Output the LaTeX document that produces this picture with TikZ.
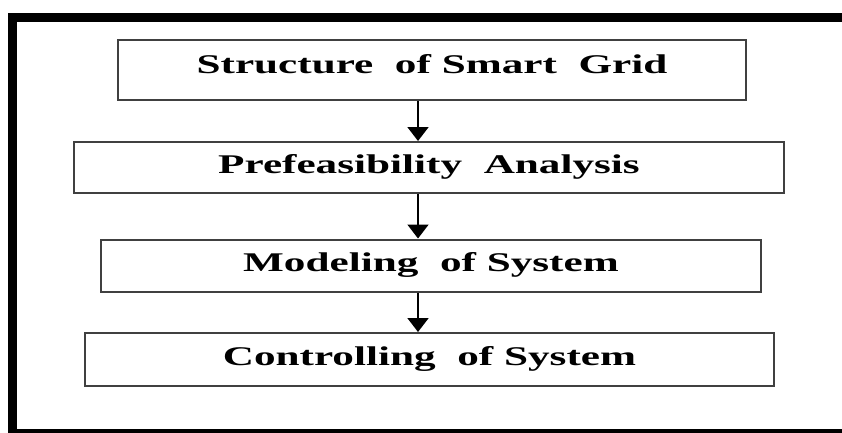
\documentclass[tikz,border=0pt]{standalone}
\usepackage{fontspec}
\setmainfont{Liberation Serif}
\usetikzlibrary{arrows.meta}
\newcommand{\wide}[1]{\scalebox{1.6}[1]{\bfseries #1}}

\begin{document}
\begin{tikzpicture}[x=1pt,y=-1pt]
\tikzstyle{stage}=[draw=black!75,line width=2pt,inner sep=0pt,font=\fontsize{27}{30}\selectfont,text height=20pt,text depth=9pt];
\tikzstyle{flow}=[line width=1.8pt,-{Triangle[width=21pt,length=14pt]}];
\useasboundingbox (0,0) rectangle (842,432);
% outer frame
\draw[line width=9pt] (12.5,17.5) rectangle (860,433);
% stages
\node[stage,minimum width=628pt,minimum height=60pt,text depth=14pt] (struct) at (432,70) {\wide{Structure\ \ of Smart\ \ Grid}};
\node[stage,minimum width=710pt,minimum height=51pt] (prefeas) at (429,167.5) {\wide{Prefeasibility\ \ Analysis}};
\node[stage,minimum width=660pt,minimum height=52pt] (model) at (431,265.5) {\wide{Modeling\ \ of System}};
\node[stage,minimum width=689pt,minimum height=53pt] (control) at (429.5,359.5) {\wide{Controlling\ \ of System}};
\coordinate (arr) at (418,0);
% arrows
\draw[flow] (struct.south -| arr) -- (prefeas.north -| arr);
\draw[flow] (prefeas.south -| arr) -- (model.north -| arr);
\draw[flow] (model.south -| arr) -- (control.north -| arr);
\end{tikzpicture}
\end{document}
